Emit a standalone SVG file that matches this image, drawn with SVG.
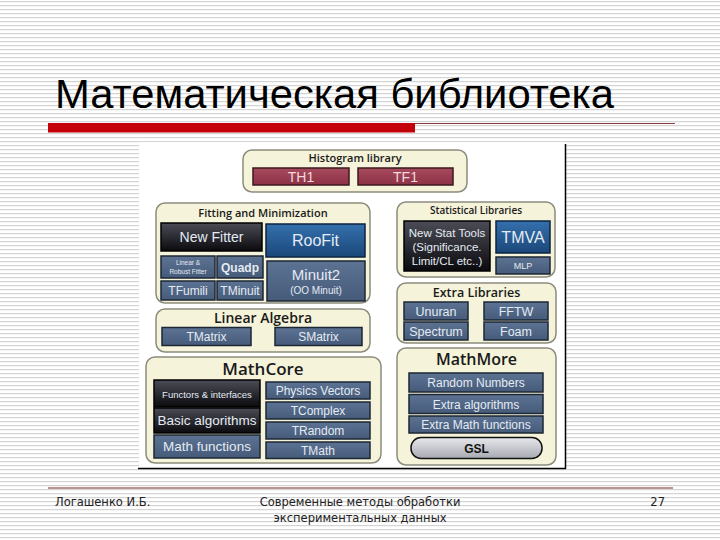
<svg xmlns="http://www.w3.org/2000/svg" width="720" height="540" viewBox="0 0 720 540">
<defs>
<pattern id="stripes" x="0" y="0" width="8" height="4" patternUnits="userSpaceOnUse">
<rect x="0" y="0" width="8" height="4" fill="#ffffff"/>
<rect x="0" y="1" width="8" height="1.2" fill="#d4d4d4"/>
</pattern>
<linearGradient id="gSlate" x1="0" y1="0" x2="0" y2="1">
<stop offset="0" stop-color="#5d7393"/><stop offset="1" stop-color="#465b7a"/>
</linearGradient>
<linearGradient id="gRed" x1="0" y1="0" x2="0" y2="1">
<stop offset="0" stop-color="#a84a5d"/><stop offset="1" stop-color="#8c3246"/>
</linearGradient>
<linearGradient id="gBlack" x1="0" y1="0" x2="0" y2="1">
<stop offset="0" stop-color="#4c4c56"/><stop offset="1" stop-color="#0a0a0e"/>
</linearGradient>
<linearGradient id="gBlue" x1="0" y1="0" x2="0" y2="1">
<stop offset="0" stop-color="#3470ad"/><stop offset="1" stop-color="#1b4779"/>
</linearGradient>
<linearGradient id="gGsl" x1="0" y1="0" x2="0" y2="1">
<stop offset="0" stop-color="#e8e8ec"/><stop offset="1" stop-color="#a8aab2"/>
</linearGradient>
</defs>
<style>
.panel{fill:#f5f3d9;stroke:#8c8c7e;stroke-width:1.5}
.slate{fill:url(#gSlate);stroke:#1c2735;stroke-width:1.5}
.red{fill:url(#gRed);stroke:#3a1820;stroke-width:1.5}
.black{fill:url(#gBlack);stroke:#000;stroke-width:1.5}
.blue{fill:url(#gBlue);stroke:#0c2340;stroke-width:1.5}
.gsl{fill:url(#gGsl);stroke:#111;stroke-width:1.5}
.pt{font-family:"Open Sans","Liberation Sans",sans-serif;font-weight:600;fill:#1a1a1a;text-anchor:middle}
.bt{font-family:"Liberation Sans",Arial,sans-serif;fill:#e4ebf3;text-anchor:middle}
.rt{font-family:"Liberation Sans",Arial,sans-serif;fill:#f2d9de;text-anchor:middle}
.ft{font-family:"DejaVu Sans","Liberation Sans",sans-serif;font-size:11.5px;fill:#222}
</style>
<rect x="0" y="0" width="720" height="540" fill="url(#stripes)"/>
<g id="title">
<text x="55" y="108" font-family="'Liberation Sans',Arial,sans-serif" font-size="40" fill="#000" textLength="559" lengthAdjust="spacingAndGlyphs">Математическая библиотека</text>
<rect x="48" y="123" width="367" height="9.5" fill="#c40008"/>
<line x1="415" y1="123.5" x2="675" y2="123.5" stroke="#8a4040" stroke-width="1"/>
</g>
<g id="image-bg">
<rect x="139" y="142" width="426.5" height="326.5" fill="#ffffff"/>
<line x1="565.5" y1="144" x2="565.5" y2="469" stroke="#000" stroke-width="1.5"/>
<line x1="138" y1="468.5" x2="566" y2="468.5" stroke="#000" stroke-width="1.5"/>
</g>
<g id="histogram">
<rect class="panel" x="243" y="150" width="224" height="42" rx="9"/>
<text class="pt" x="355" y="162" font-size="11">Histogram library</text>
<rect class="red" x="253" y="168" width="96" height="17"/>
<text class="rt" x="301" y="181.5" font-size="14">TH1</text>
<rect class="red" x="358" y="168" width="95" height="17"/>
<text class="rt" x="405.5" y="181.5" font-size="14">TF1</text>
</g>
<g id="fitting">
<rect class="panel" x="156" y="203" width="214" height="100" rx="9"/>
<text class="pt" x="263" y="217" font-size="11">Fitting and Minimization</text>
<rect class="black" x="161" y="223" width="101" height="28"/>
<text class="bt" x="211.5" y="242" font-size="14">New Fitter</text>
<rect class="blue" x="266" y="224" width="99" height="33"/>
<text class="bt" x="315.5" y="246" font-size="16">RooFit</text>
<rect class="slate" x="161" y="256" width="54" height="22"/>
<text class="bt" x="188" y="265" font-size="6.5">Linear &amp;</text>
<text class="bt" x="188" y="273.5" font-size="6.5">Robust Fitter</text>
<rect class="slate" x="217" y="256" width="46" height="22"/>
<text class="bt" x="240" y="271.5" font-size="12" font-weight="bold">Quadp</text>
<rect class="slate" x="161" y="281" width="54" height="19"/>
<text class="bt" x="188" y="295" font-size="12">TFumili</text>
<rect class="slate" x="217" y="281" width="46" height="19"/>
<text class="bt" x="240" y="295" font-size="12">TMinuit</text>
<rect class="slate" x="267" y="261" width="98" height="40"/>
<text class="bt" x="316" y="280" font-size="15">Minuit2</text>
<text class="bt" x="316" y="294" font-size="10">(OO Minuit)</text>
</g>
<g id="statistical">
<rect class="panel" x="397" y="202" width="158" height="75" rx="9"/>
<text class="pt" x="476" y="214" font-size="10">Statistical Libraries</text>
<rect class="black" x="404" y="221" width="86" height="50"/>
<text class="bt" x="447" y="237" font-size="11.5">New Stat Tools</text>
<text class="bt" x="447" y="251" font-size="11.5">(Significance.</text>
<text class="bt" x="447" y="265" font-size="11.5">Limit/CL etc..)</text>
<rect class="blue" x="496" y="221" width="54" height="32"/>
<text class="bt" x="523" y="243" font-size="16">TMVA</text>
<rect class="slate" x="496" y="257" width="54" height="17"/>
<text class="bt" x="523" y="269" font-size="9">MLP</text>
</g>
<g id="extra">
<rect class="panel" x="397" y="283" width="159" height="60" rx="9"/>
<text class="pt" x="476.5" y="297" font-size="12.5">Extra Libraries</text>
<rect class="slate" x="404" y="302" width="64" height="18"/>
<text class="bt" x="436" y="315.5" font-size="12.5">Unuran</text>
<rect class="slate" x="484" y="302" width="64" height="18"/>
<text class="bt" x="516" y="315.5" font-size="12.5">FFTW</text>
<rect class="slate" x="404" y="322" width="64" height="18"/>
<text class="bt" x="436" y="335.5" font-size="12.5">Spectrum</text>
<rect class="slate" x="484" y="322" width="64" height="18"/>
<text class="bt" x="516" y="335.5" font-size="12.5">Foam</text>
</g>
<g id="mathmore">
<rect class="panel" x="397" y="348" width="159" height="117" rx="9"/>
<text class="pt" x="476.5" y="365" font-size="16">MathMore</text>
<rect class="slate" x="409" y="373" width="134" height="19"/>
<text class="bt" x="476" y="387" font-size="12">Random Numbers</text>
<rect class="slate" x="409" y="394.5" width="134" height="19"/>
<text class="bt" x="476" y="408.5" font-size="12">Extra algorithms</text>
<rect class="slate" x="409" y="416" width="134" height="17"/>
<text class="bt" x="476" y="429" font-size="12">Extra Math functions</text>
<rect class="gsl" x="411" y="437.5" width="131" height="21" rx="10"/>
<text x="476.5" y="452.5" font-family="'Liberation Sans',Arial,sans-serif" font-size="12" font-weight="bold" fill="#111" text-anchor="middle">GSL</text>
</g>
<g id="linear-algebra">
<rect class="panel" x="156" y="309" width="214" height="43" rx="9"/>
<text class="pt" x="263" y="323" font-size="14">Linear Algebra</text>
<rect class="slate" x="162" y="327.5" width="89" height="18"/>
<text class="bt" x="206.5" y="341" font-size="12">TMatrix</text>
<rect class="slate" x="275" y="327.5" width="87" height="18"/>
<text class="bt" x="318.5" y="341" font-size="12">SMatrix</text>
</g>
<g id="mathcore">
<rect class="panel" x="146" y="357" width="235" height="106" rx="9"/>
<text class="pt" x="263" y="375" font-size="17">MathCore</text>
<rect class="black" x="154" y="380" width="106" height="27"/>
<text class="bt" x="207" y="397.5" font-size="9.5">Functors &amp; interfaces</text>
<rect class="black" x="154" y="408" width="106" height="25"/>
<text class="bt" x="207" y="425" font-size="13.5">Basic algorithms</text>
<rect class="slate" x="154" y="435" width="106" height="23"/>
<text class="bt" x="207" y="451" font-size="13.5">Math functions</text>
<rect class="slate" x="266" y="382" width="104" height="17"/>
<text class="bt" x="318" y="395" font-size="12">Physics Vectors</text>
<rect class="slate" x="266" y="402" width="104" height="17"/>
<text class="bt" x="318" y="415" font-size="12">TComplex</text>
<rect class="slate" x="266" y="422" width="104" height="17"/>
<text class="bt" x="318" y="435" font-size="12">TRandom</text>
<rect class="slate" x="266" y="442" width="104" height="16.5"/>
<text class="bt" x="318" y="454.5" font-size="12">TMath</text>
</g>
<g id="connectors"/>
<g id="footer">
<line x1="48" y1="488" x2="673" y2="488" stroke="#6e2a2a" stroke-width="1"/>
<text class="ft" x="55" y="506">Логашенко И.Б.</text>
<text class="ft" x="360" y="506" text-anchor="middle">Современные методы обработки</text>
<text class="ft" x="360" y="522" text-anchor="middle">экспериментальных данных</text>
<text class="ft" x="665" y="506" text-anchor="end">27</text>
</g>
</svg>
